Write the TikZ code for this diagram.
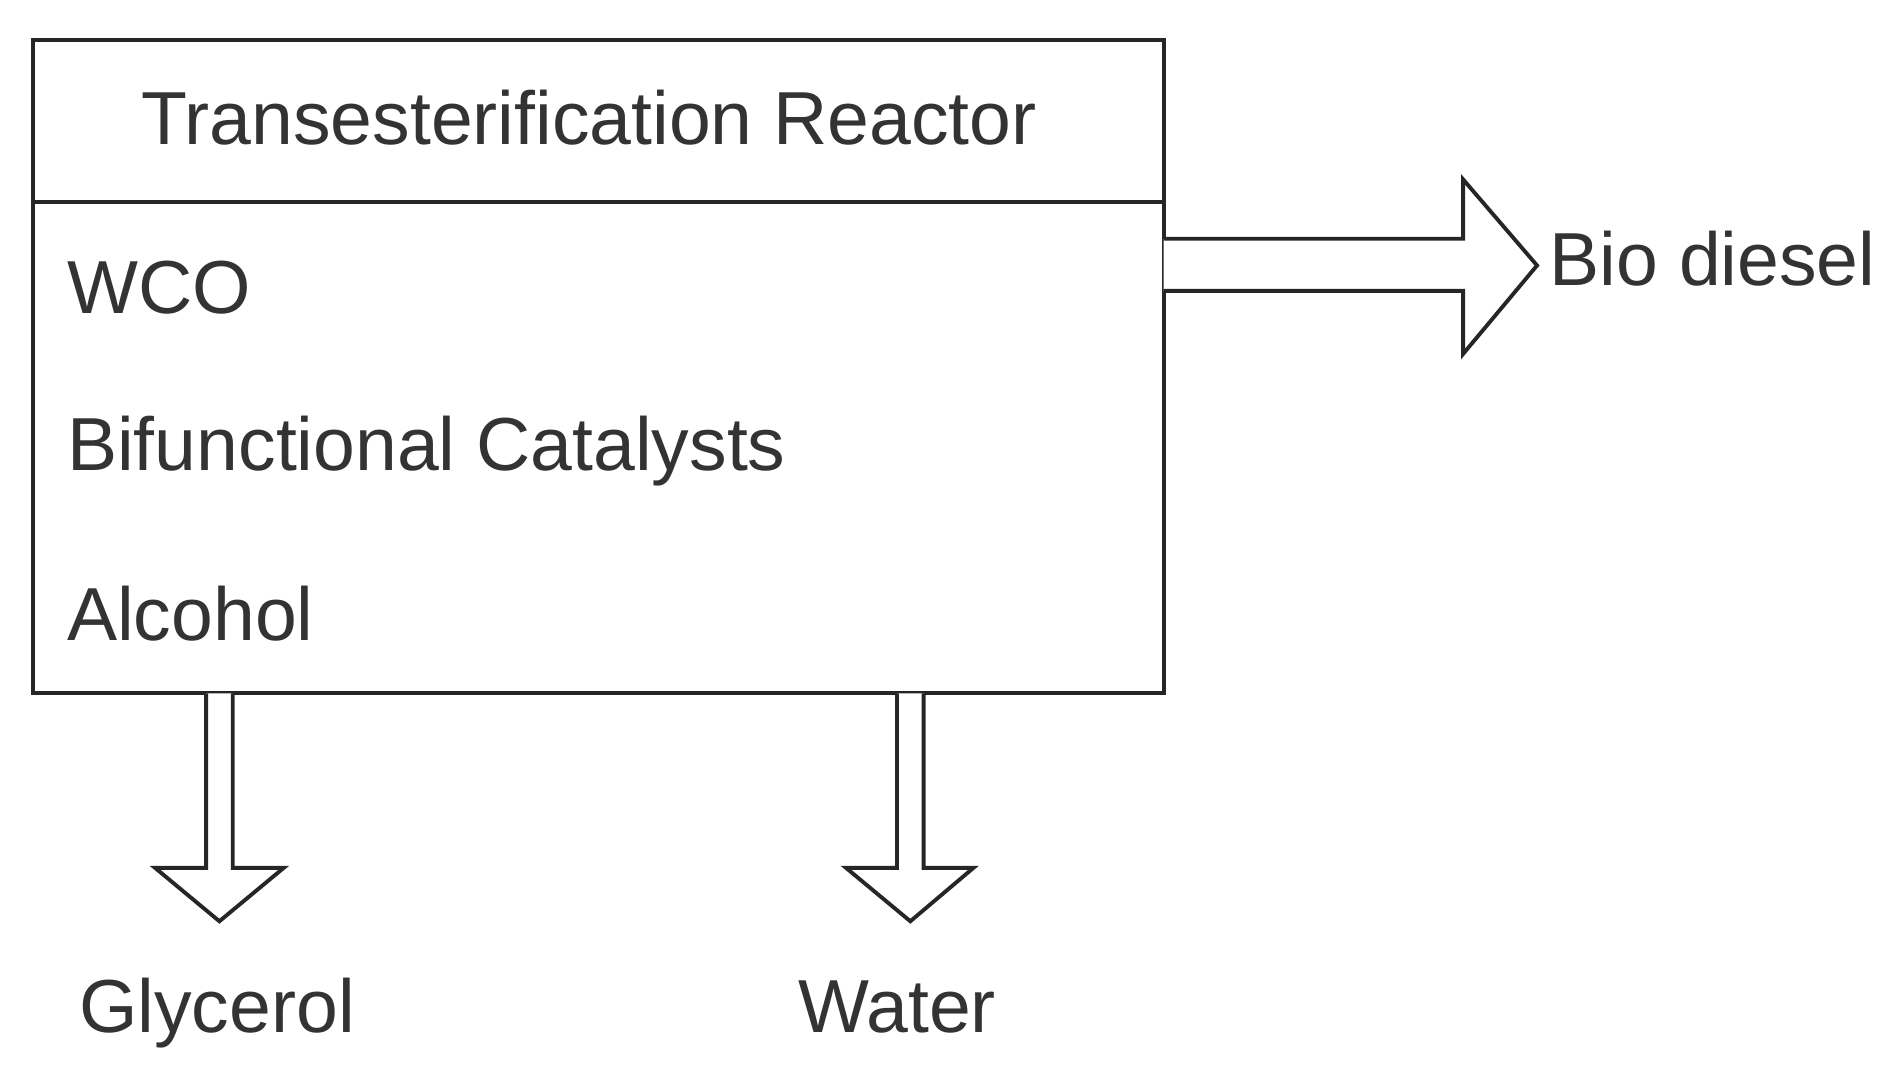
\documentclass[tikz,border=0pt]{standalone}
\usepackage{fontspec}
\setmainfont{Liberation Sans}
\begin{document}
\begin{tikzpicture}[x=0.5pt,y=-0.5pt,
  txt/.style={font=\fontsize{31}{34}\selectfont,text=black!80,inner sep=0pt},
  blk/.style={draw=black!85,line width=1.6pt,fill=white,line join=miter}]
\useasboundingbox (0,0) rectangle (1560,888);
\draw[blk] (27,33) rectangle (960,572);
\draw[blk] (27,167) -- (960,167);
\node[txt] (title) at (486,97) {Transesterification Reactor};
\node[txt,anchor=west] (wco) at (55,237) {WCO};
\node[txt,anchor=west] (cat) at (55,372) {Bifunctional Catalysts};
\node[txt,anchor=west] (alc) at (55,506) {Alcohol};
% right block arrow
\draw[blk] (960,197) -- (1207,197) -- (1207,148) -- (1268,219) -- (1207,292) -- (1207,240) -- (960,240);
\node[txt,anchor=west] (bio) at (1278,213) {Bio diesel};
% down arrows
\draw[blk] (170,572) -- (170,716) -- (128,716) -- (181,760) -- (234,716) -- (192,716) -- (192,572);
\draw[blk] (740,572) -- (740,716) -- (698,716) -- (751,760) -- (803,716) -- (762,716) -- (762,572);
\node[txt,anchor=base] (gly) at (179,852) {Glycerol};
\node[txt,anchor=base] (wat) at (740,852) {Water};
\end{tikzpicture}
\end{document}
